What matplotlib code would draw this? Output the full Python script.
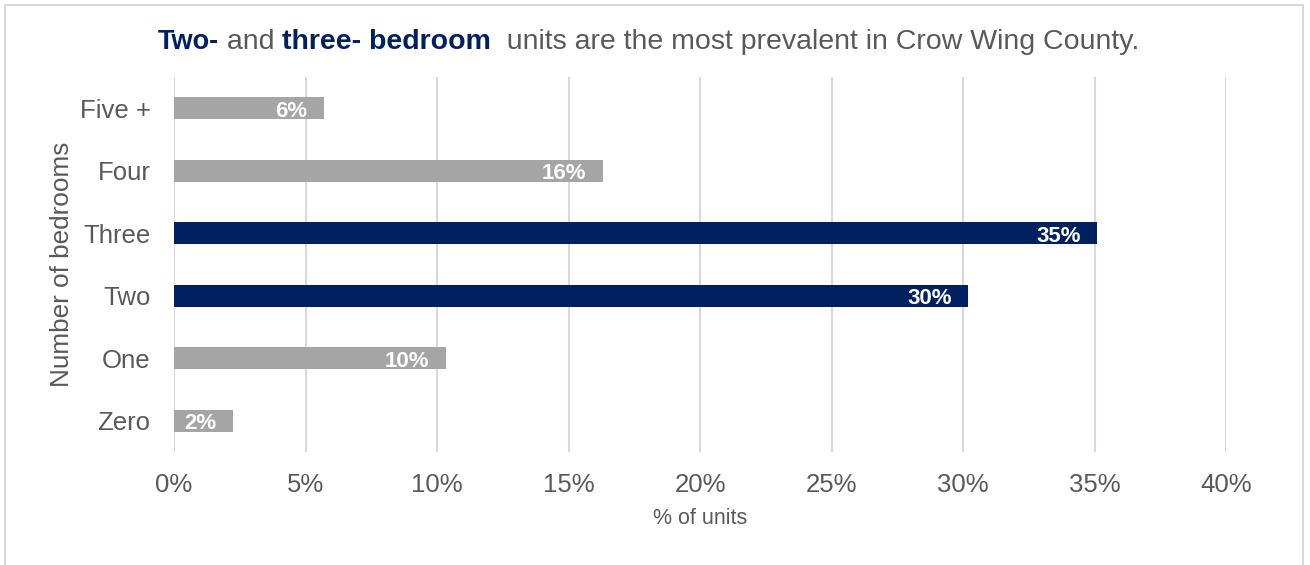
import matplotlib
matplotlib.use("Agg")
import matplotlib.pyplot as plt
from matplotlib.patches import Rectangle

plt.rcParams['font.family'] = ['Liberation Sans', 'DejaVu Sans']

categories = ["Zero", "One", "Two", "Three", "Four", "Five +"]
values = [2.24, 10.35, 30.2, 35.1, 16.3, 5.7]
labels = ["2%", "10%", "30%", "35%", "16%", "6%"]
highlight = ["Two", "Three"]
xticks = [0, 5, 10, 15, 20, 25, 30, 35, 40]

GRAY = "#A5A5A5"
NAVY = "#002060"
TXT = "#595959"

fig = plt.figure(figsize=(13.1, 5.65), dpi=100)
ax = fig.add_axes([174/1310, 0.2, (1226-174)/1310, 0.6637])

colors = [NAVY if c in highlight else GRAY for c in categories]
bars = ax.barh(categories, values, height=0.35, color=colors, zorder=3)

for b, lab in zip(bars, labels):
    ax.annotate(lab, (b.get_width(), b.get_y() + b.get_height() / 2),
                xytext=(-12, -2), textcoords="offset points",
                ha="right", va="center", color="white",
                fontsize=16, fontweight="bold", zorder=4)

ax.set_xlim(0, 40)
ax.set_ylim(-0.5, 5.5)
ax.set_xticks(xticks)
ax.set_xticklabels([f"{t}%" for t in xticks])
ax.grid(axis="x", color="#D9D9D9", linewidth=1.5, zorder=0)
ax.tick_params(axis="both", length=0, labelsize=18.5, labelcolor=TXT)
ax.tick_params(axis="x", pad=15)
ax.tick_params(axis="y", pad=17)
for s in ax.spines.values():
    s.set_visible(False)

ax.set_xlabel("% of units", fontsize=15.5, color=TXT, labelpad=8)
ax.set_ylabel("Number of bedrooms", fontsize=18.8, color=TXT, labelpad=4)

# outer frame
fig.patches.append(Rectangle((5/1310, -0.05), 1298/1310, 1.05 - 5/565,
                             transform=fig.transFigure, fill=False,
                             edgecolor="#D9D9D9", linewidth=1.5))

# title in mixed styles
parts = [("Two-", NAVY, "bold", 19.5), (" and ", TXT, "normal", 20.5),
         ("three- bedroom", NAVY, "bold", 20.5),
         ("  units are the most prevalent in Crow Wing County.", TXT, "normal", 20.5)]
r = fig.canvas.get_renderer()
x = 158 / 1310
y = 1 - 42 / 565
for txt, col, wt, fs in parts:
    t = fig.text(x, y, txt, color=col, fontweight=wt, fontsize=fs, va="center")
    bb = t.get_window_extent(renderer=r)
    x += bb.width / 1310

fig.savefig("out.png", dpi=100)
